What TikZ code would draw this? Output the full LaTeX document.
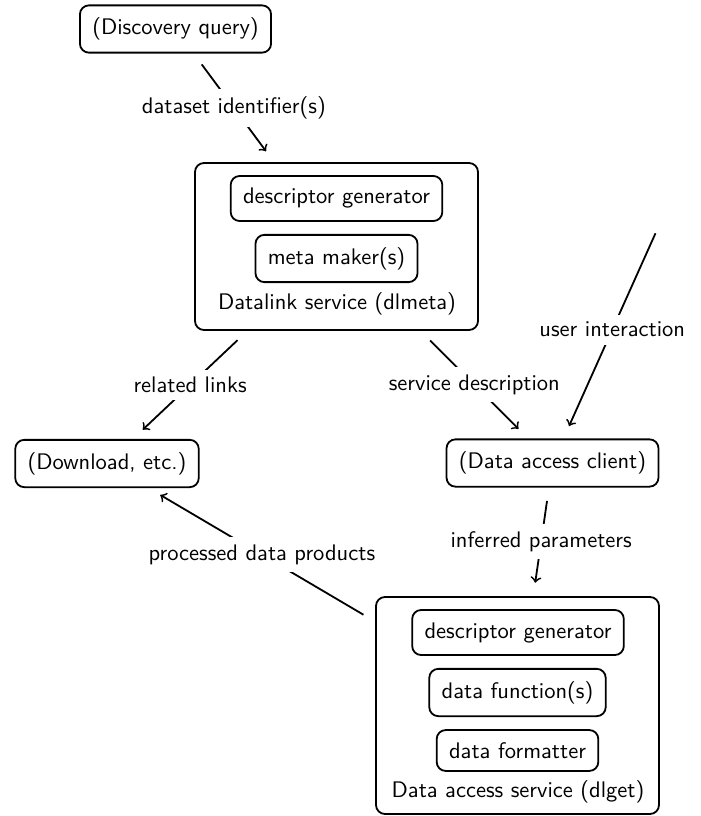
\documentclass[tikz,border=0pt]{standalone}
\usepackage{tikz}
\usetikzlibrary{fit}
\renewcommand{\familydefault}{\sfdefault}

\begin{document}
\begin{tikzpicture}[ x=0.444pt, y=-0.444pt, font=\sffamily,
    box/.style={draw, thick, rounded corners, inner sep=5.5pt},
    group/.style={draw, thick, rounded corners, inner sep=0pt},
    flow/.style={->, thick, shorten <=6pt, shorten >=6pt},
    lbl/.style={fill=white, inner sep=3.3pt} ]

    \useasboundingbox (0,0) rectangle (700,816);

    % Single boxes
    \node[box] (query) at (175.5,29) {(Discovery query)};
    \node[box] (download) at (107,463.5) {(Download, etc.)};
    \node[box] (client) at (552.5,463) {(Data access client)};

    % --- Datalink service ---
    \node[box] (metagen) at (336.5,198.5) {descriptor generator};
    \node[box] (metamaker) at (336.5,258.5) {meta maker(s)};
    \node (metalabel) at (337,304) {Datalink service (dlmeta)};
    \node[group, fit={(195,163) (478,330)}] (dlmeta) {};

    % --- Data access service ---
    \node[box] (getgen) at (518,632.5) {descriptor generator};
    \node[box] (getfunc) at (517.5,692.5) {data function(s)};
    \node[box] (getfmt) at (517.5,750.5) {data formatter};
    \node (getlabel) at (518,792) {Data access service (dlget)};
    \node[group, fit={(376,597) (659,814)}] (dlget) {};

    \coordinate (user) at (661,221);

    % Connectors
    \draw[flow] (query) -- node[lbl] {dataset identifier(s)} (dlmeta);
    \draw[flow] (dlmeta) -- node[lbl] {related links} (download);
    \draw[flow] (dlmeta) -- node[lbl] {service description} (client);
    \draw[flow] (user) -- node[lbl] {user interaction} (client);
    \draw[flow] (client) -- node[lbl] {inferred parameters} (dlget);
    \draw[flow] (dlget) -- node[lbl] {processed data products} (download);
  \end{tikzpicture}
\end{document}
